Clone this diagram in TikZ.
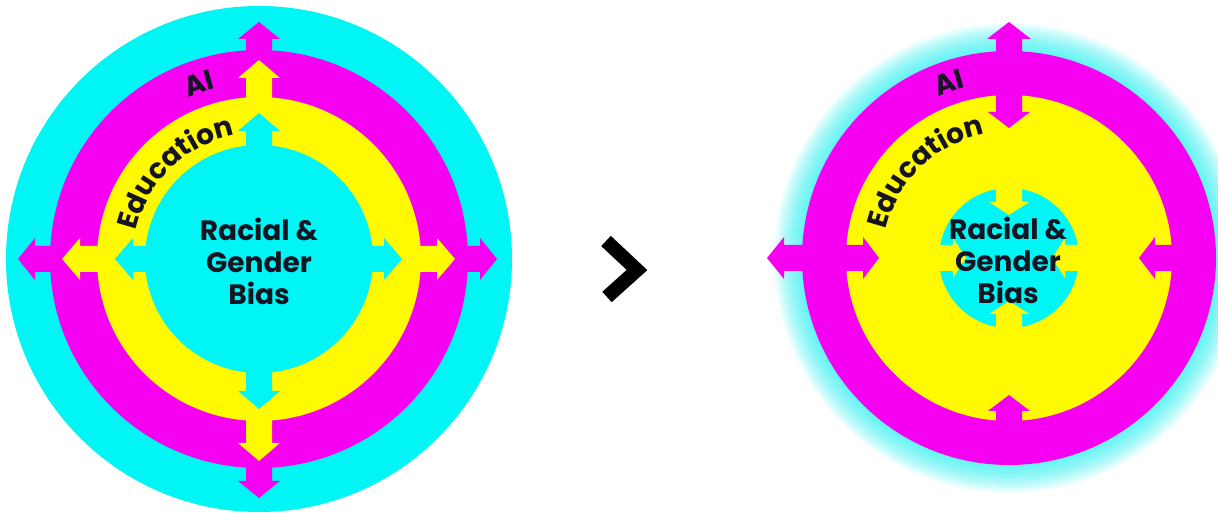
\documentclass[tikz,border=0pt]{standalone}
\usepackage{fontspec}
\setmainfont{Poppins}
\usetikzlibrary{decorations.text}
\definecolor{cy}{RGB}{0,245,245}
\definecolor{mg}{RGB}{245,0,240}
\definecolor{yl}{RGB}{255,250,0}
\definecolor{ink}{RGB}{20,20,35}
\newcommand\curvfont{\fontsize{28}{28}\selectfont\bfseries}
% outward arrow: color, centre, angle, ring edge radius, length, head length, shaft half width, head half width
\newcommand\outarr[8]{\fill[#1, shift={(#2)}, rotate=#3]
  ({#4-8},-#7) -- ({#4+#5-#6},-#7) -- ({#4+#5-#6},-#8) -- ({#4+#5},0) --
  ({#4+#5-#6},#8) -- ({#4+#5-#6},#7) -- ({#4-8},#7) -- cycle;}
\newcommand\inarr[8]{\fill[#1, shift={(#2)}, rotate=#3]
  ({#4+8},-#7) -- ({#4-#5+#6},-#7) -- ({#4-#5+#6},-#8) -- ({#4-#5},0) --
  ({#4-#5+#6},#8) -- ({#4-#5+#6},#7) -- ({#4+8},#7) -- cycle;}
\tikzset{
  biastext/.style={align=center, text=ink, font=\fontsize{28}{32}\selectfont\bfseries},
  curvtext/.style={decorate, decoration={text along path, text={|\curvfont|#1}, text align=center, text color=ink}}
}
\begin{document}
\begin{tikzpicture}[x=1pt,y=1pt]
\useasboundingbox (0,0) rectangle (1218,518);
\fill[white] (0,0) rectangle (1218,518);
\coordinate (L) at (259,259);
\coordinate (R) at (1009,260);

% ---------- left diagram ----------
\fill[cy] (L) circle[radius=253];
\foreach \a/\l in {90/28,180/32,270/30,0/29} {\outarr{mg}{L}{\a}{209}{\l}{17}{13}{21}}
\fill[mg] (L) circle[radius=209];
\foreach \a/\l in {90/37,180/35,270/40,0/34} {\outarr{yl}{L}{\a}{162}{\l}{18}{13}{21}}
\fill[yl] (L) circle[radius=162];
\foreach \a/\l in {90/32,180/30,270/36,0/29} {\outarr{cy}{L}{\a}{114}{\l}{18}{13}{21}}
\fill[cy] (L) circle[radius=114];
\node[biastext] (lbias) at (259,257) {Racial \&\\Gender\\Bias};
\path[curvtext=AI] (L) ++(130:176) arc[start angle=130, end angle=88, radius=176];
\path[curvtext=Education] (L) ++(172:126) arc[start angle=172, end angle=96, radius=126];

% ---------- chevron ----------
\draw[line width=14pt, line join=miter, line cap=butt] (606,277) coordinate (c1) -- (637,248) coordinate (c2) -- (607,221) coordinate (c3);

% ---------- right diagram ----------
\foreach \i in {1,...,14} {\fill[cy, opacity=0.06] (R) circle[radius={207+2*\i}];}
\outarr{mg}{R}{90}{207}{29}{17}{13}{22}
\outarr{mg}{R}{180}{207}{35}{17}{13}{21}
\fill[mg] (R) circle[radius=207];
\fill[yl] (R) circle[radius=163];
\foreach \a/\l in {90/33,180/33,0/33,270/26} {\inarr{mg}{R}{\a}{163}{\l}{16}{13}{21}}
\fill[cy] (R) circle[radius=70];
\foreach \a in {90,180,0,270} {\inarr{yl}{R}{\a}{70}{27}{13}{13}{20}}
\node[biastext] (rbias) at (1008,258) {Racial \&\\Gender\\Bias};
\path[curvtext=AI] (R) ++(130:176) arc[start angle=130, end angle=88, radius=176];
\path[curvtext=Education] (R) ++(172:126) arc[start angle=172, end angle=96, radius=126];
\end{tikzpicture}
\end{document}
